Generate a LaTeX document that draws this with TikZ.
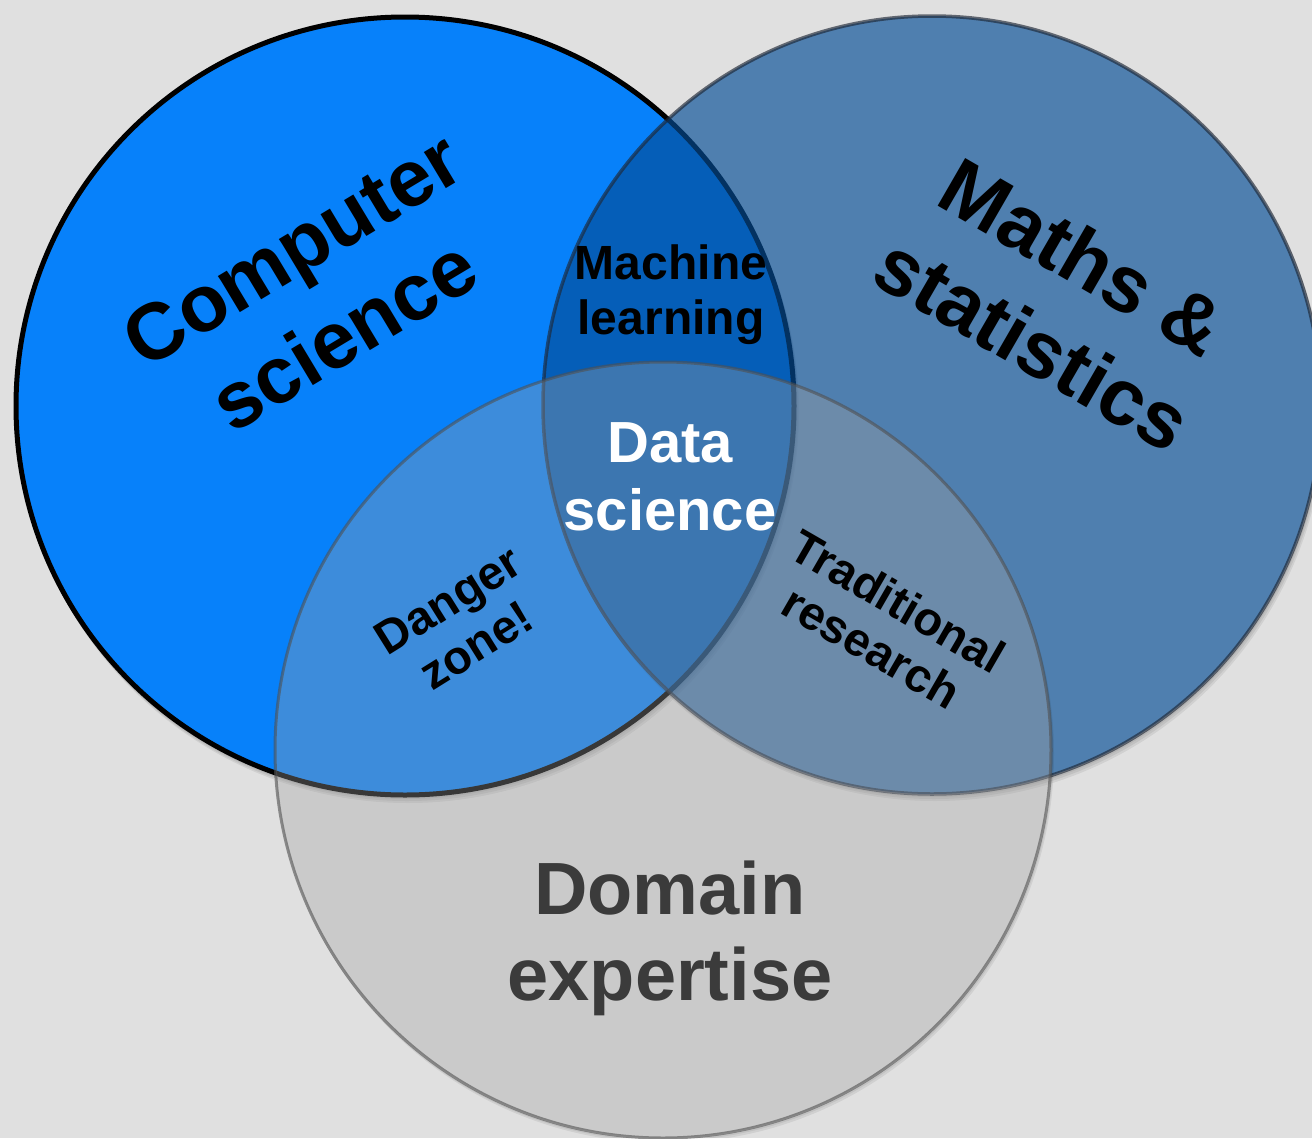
\documentclass[tikz,border=0pt]{standalone}
\usepackage{fontspec}
\setmainfont{Liberation Sans}
\definecolor{bgc}{RGB}{224,224,224}
\definecolor{csblue}{RGB}{7,129,250}
\definecolor{msblue}{RGB}{5,77,150}
\definecolor{msline}{RGB}{30,40,55}
\definecolor{degray}{RGB}{163,163,163}
\definecolor{deline}{RGB}{80,80,80}
\definecolor{detext}{RGB}{59,59,59}
\begin{document}
\begin{tikzpicture}[x=1pt,y=-1pt,
  lbl/.style={align=center, inner sep=0pt},
  big/.style={font=\fontsize{80pt}{100pt}\selectfont\bfseries},
  mid/.style={font=\fontsize{58pt}{68pt}\selectfont\bfseries},
  small/.style={font=\fontsize{48pt}{55pt}\selectfont\bfseries},
  tiny/.style={font=\fontsize{47pt}{53pt}\selectfont\bfseries},
  dom/.style={font=\fontsize{74pt}{86pt}\selectfont\bfseries},
  shade/.style={fill=black, fill opacity=0.07}]
\fill[bgc] (0,0) rectangle (1312,1138);
\useasboundingbox (0,0) rectangle (1312,1138);
% computer science circle with soft shadow
\begin{scope}[even odd rule]
  \clip (0,0) rectangle (1312,1138) (405,406) circle [radius=391];
  \foreach \d in {2,4,6} {\fill[shade] (405+\d/2,406+\d) circle [radius=391];}
\end{scope}
\draw[line width=5pt, fill=csblue, draw=black] (405,406) circle [radius=389];
% maths circle
\begin{scope}[even odd rule]
  \clip (0,0) rectangle (1312,1138) (932,405) circle [radius=390];
  \foreach \d in {2,4,6} {\fill[shade] (932+\d/2,405+\d) circle [radius=390];}
\end{scope}
\draw[line width=3.5pt, fill=msblue, draw=msline, opacity=0.66] (932,405) circle [radius=389];
% domain circle
\begin{scope}[even odd rule]
  \clip (0,0) rectangle (1312,1138) (663,750) circle [radius=389];
  \foreach \d in {2,4} {\fill[shade] (663+\d/2,750+\d) circle [radius=389];}
\end{scope}
\draw[line width=3pt, fill=degray, draw=deline, fill opacity=0.35, draw opacity=0.6] (663,750) circle [radius=388];
% labels
\node[lbl, big, rotate=31] (cs) at (318,292) {Computer\\science};
\node[lbl, big, rotate=-30] (ms) at (1058,300) {Maths \&\\statistics};
\node[lbl, small] (ml) at (671,295) {Machine\\learning};
\node[lbl, mid, text=white] (ds) at (670,477) {Data\\science};
\node[lbl, tiny, rotate=32] (dz) at (462,623) {Danger\\zone!};
\node[lbl, tiny, rotate=-30] (tr) at (885,624) {Traditional\\research};
\node[lbl, dom, text=detext] (de) at (670,938) {Domain\\expertise};
\end{tikzpicture}
\end{document}
